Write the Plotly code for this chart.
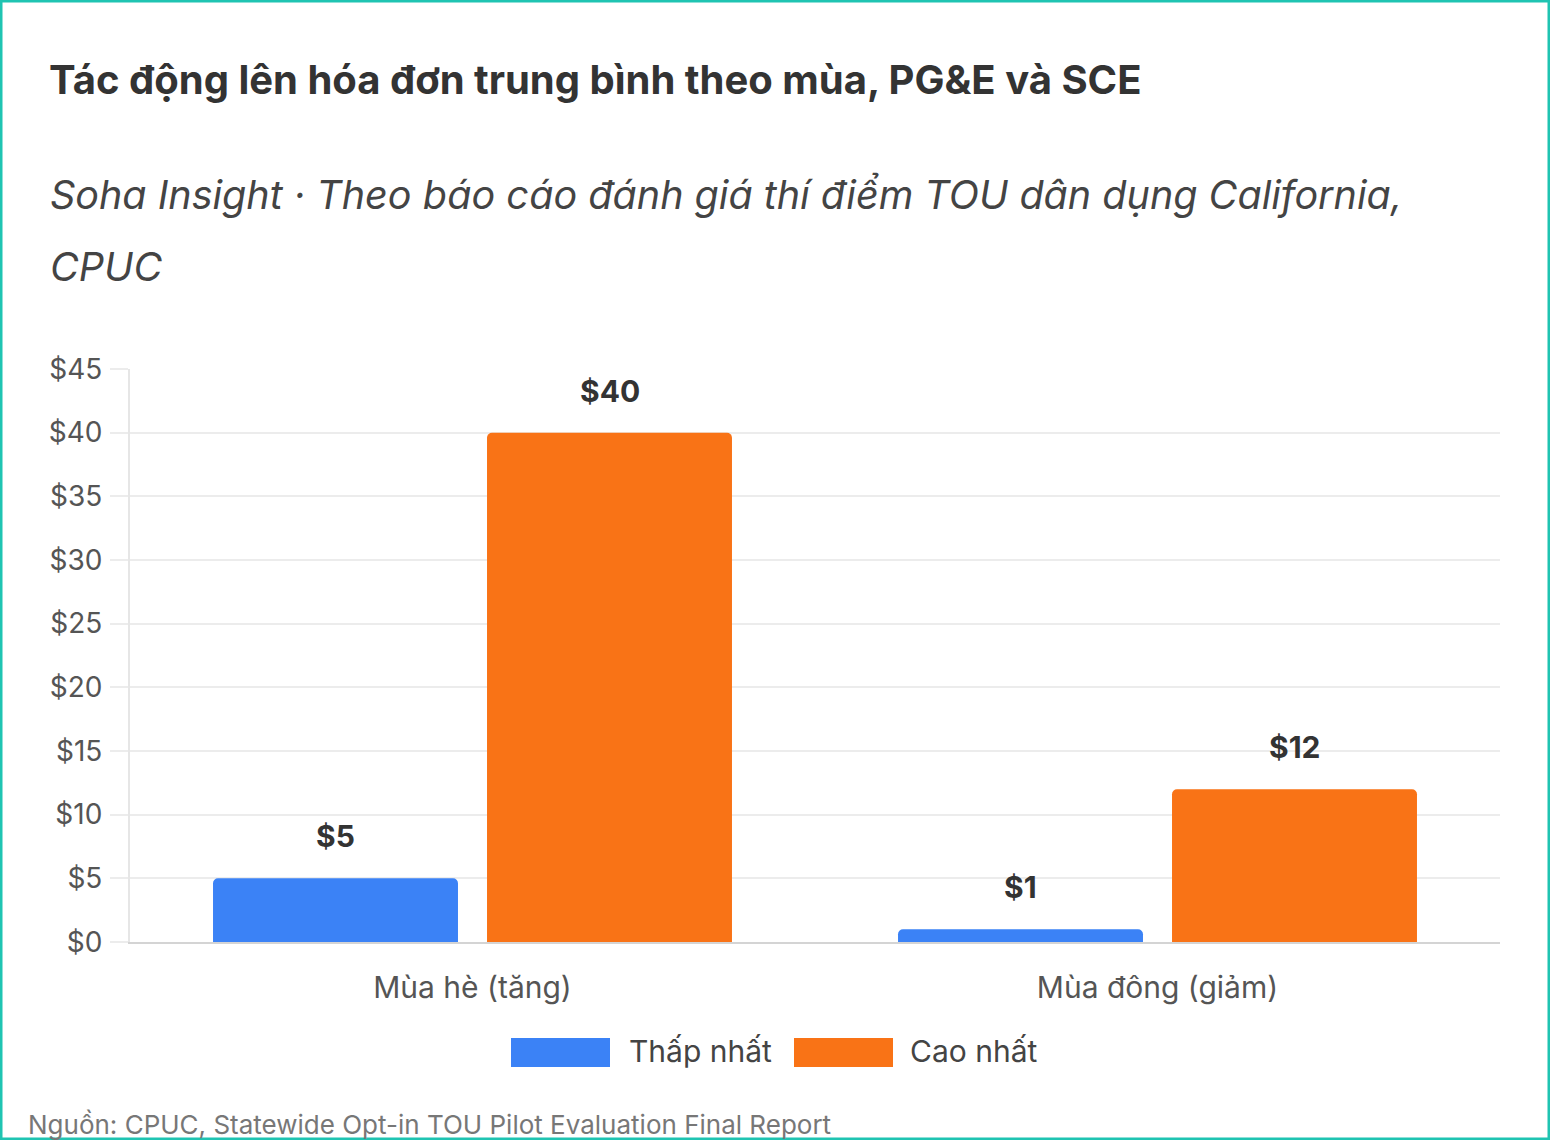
import plotly.graph_objects as go

categories = ["Mùa hè (tăng)", "Mùa đông (giảm)"]
series_names = ["Thấp nhất", "Cao nhất"]
low_values = [5, 1]
high_values = [40, 12]
colors = ["#3b82f6", "#f97316"]
tick_vals = [0, 5, 10, 15, 20, 25, 30, 35, 40, 45]
tick_text = ["$" + str(v) for v in tick_vals]

W, H = 1550, 1140
L, R, T, B = 130, 50, 369, 198
PW, PH = W - L - R, H - T - B


def px(x):
    return (x - L) / PW


def py(y):
    return (H - B - y) / PH


FONT = "Inter, 'Noto Sans', sans-serif"

fig = go.Figure()
for name, vals, col in zip(series_names, [low_values, high_values], colors):
    fig.add_trace(go.Bar(
        x=categories, y=vals, name=name, marker=dict(color=col, line=dict(width=0)),
        showlegend=False, hoverinfo="skip",
    ))

annotations = []
# value labels
offsets = [-137, 137]
for vals, xs in zip([low_values, high_values], offsets):
    for c, v in zip(categories, vals):
        annotations.append(dict(
            x=c, y=v, xref="x", yref="y", text="$" + str(v), showarrow=False,
            xshift=xs, yshift=22, yanchor="bottom",
            font=dict(family=FONT, size=30, color="#333333", weight="bold"),
        ))

# title / subtitle / footer
annotations.append(dict(
    x=px(47), y=py(80), xref="paper", yref="paper", xanchor="left", yanchor="middle",
    text="<b>Tác động lên hóa đơn trung bình theo mùa, PG&E và SCE</b>", showarrow=False,
    font=dict(family=FONT, size=40, color="#333333"),
))
for txt, yy in [("<i>Soha Insight · Theo báo cáo đánh giá thí điểm TOU dân dụng California,</i>", 195),
                ("<i>CPUC</i>", 267)]:
    annotations.append(dict(
        x=px(48), y=py(yy), xref="paper", yref="paper", xanchor="left", yanchor="middle",
        text=txt, showarrow=False, align="left",
        font=dict(family=FONT, size=39.5, color="#444444"),
    ))
annotations.append(dict(
    x=px(26), y=py(1124), xref="paper", yref="paper", xanchor="left", yanchor="middle",
    text="Nguồn: CPUC, Statewide Opt-in TOU Pilot Evaluation Final Report", showarrow=False,
    font=dict(family=FONT, size=26, color="#777777"),
))

# manual legend
shapes = []
legend_items = [(511, 627), (794, 908)]
for (sx, tx), name, col in zip(legend_items, series_names, colors):
    shapes.append(dict(type="rect", xref="paper", yref="paper",
                       x0=px(sx), x1=px(sx + 99), y0=py(1067), y1=py(1038),
                       fillcolor=col, line=dict(width=0)))
    annotations.append(dict(
        x=px(tx), y=py(1051), xref="paper", yref="paper", xanchor="left", yanchor="middle",
        text=name, showarrow=False, font=dict(family=FONT, size=30, color="#444444"),
    ))

# outer border
shapes.append(dict(type="rect", xref="paper", yref="paper",
                   x0=px(1), x1=px(W - 1), y0=py(H - 1), y1=py(1),
                   line=dict(color="#1fc4b2", width=3), fillcolor="rgba(0,0,0,0)", layer="above"))

fig.update_layout(
    width=W, height=H,
    margin=dict(l=L, r=R, t=T, b=B, pad=0),
    paper_bgcolor="white", plot_bgcolor="white",
    barmode="group", bargap=0.2, bargroupgap=0.106,
    barcornerradius=5,
    font=dict(family=FONT, color="#555555"),
    annotations=annotations, shapes=shapes,
    xaxis=dict(
        showgrid=False, showline=True, linecolor="#d4d4d4", linewidth=2,
        tickfont=dict(size=30, color="#555555"), ticks="outside", ticklen=0,
        ticklabelstandoff=18, fixedrange=True,
    ),
    yaxis=dict(
        range=[0, 45], tickvals=tick_vals, ticktext=tick_text,
        showgrid=True, gridcolor="#ececec", gridwidth=2,
        showline=True, linecolor="#e6e6e6", linewidth=2,
        ticks="outside", ticklen=18, tickcolor="#ececec", tickwidth=2,
        ticklabelstandoff=2,
        tickfont=dict(size=28, color="#555555"), zeroline=False, fixedrange=True,
    ),
)

fig.write_html("out.html")
